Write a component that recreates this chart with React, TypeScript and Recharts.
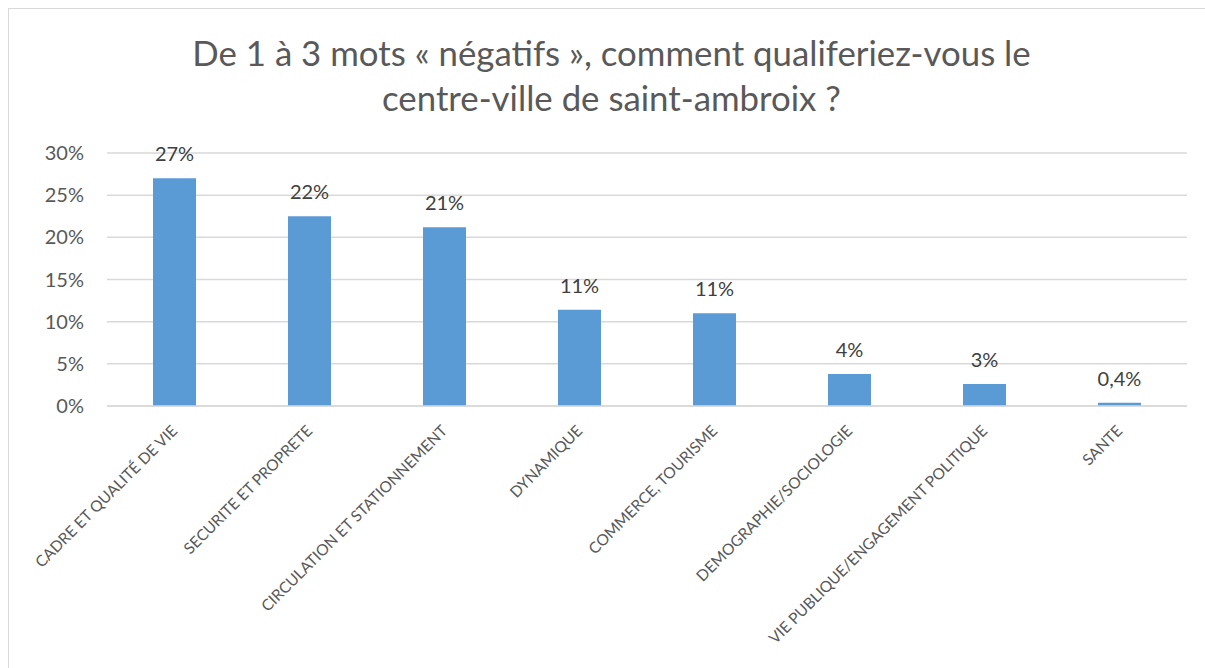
import React from "react";
import { BarChart, Bar, XAxis, YAxis, CartesianGrid, LabelList } from "recharts";

const categories = [
  "CADRE ET QUALITÉ DE VIE",
  "SECURITE ET PROPRETE",
  "CIRCULATION ET STATIONNEMENT",
  "DYNAMIQUE",
  "COMMERCE, TOURISME",
  "DEMOGRAPHIE/SOCIOLOGIE",
  "VIE PUBLIQUE/ENGAGEMENT POLITIQUE",
  "SANTE",
];
const values = [27.0, 22.5, 21.2, 11.4, 11.0, 3.8, 2.6, 0.4];
const valueLabels = ["27%", "22%", "21%", "11%", "11%", "4%", "3%", "0,4%"];
const yTicks = [0, 5, 10, 15, 20, 25, 30];
const titleLines = [
  "De 1 à 3 mots « négatifs », comment qualiferiez-vous le",
  "centre-ville de saint-ambroix ?",
];

const data = categories.map((c, i) => ({ name: c, value: values[i], label: valueLabels[i] }));

const FONT = "Lato, 'Open Sans', sans-serif";

const XTick = (props: any) => {
  const { x, y, payload } = props;
  return (
    <g transform={`translate(${x},${y + 14})`}>
      <text
        transform="rotate(-45)"
        textAnchor="end"
        fill="#595959"
        fontSize={15.5}
        fontFamily={FONT}
        dy="0.35em"
      >
        {payload.value}
      </text>
    </g>
  );
};

export default function App() {
  return (
    <div style={{ position: "absolute", left: 0, top: 0, width: 1205, height: 668, overflow: "hidden", background: "#fff" }}>
      <div
        style={{
          position: "absolute",
          left: 8,
          top: 8,
          width: 1220,
          height: 700,
          border: "1.5px solid #d9d9d9",
          boxSizing: "border-box",
        }}
      />
      {titleLines.map((t, i) => (
        <div
          key={i}
          style={{
            position: "absolute",
            left: 0,
            width: 1223,
            top: 31 + i * 45,
            textAlign: "center",
            fontFamily: FONT,
            fontSize: 34.8,
            color: "#595959",
            lineHeight: "44px",
            whiteSpace: "nowrap",
          }}
        >
          {t}
        </div>
      ))}
      <div style={{ position: "absolute", left: 0, top: 0 }}>
        <BarChart
          width={1205}
          height={668}
          data={data}
          margin={{ top: 153, right: 18, bottom: 0, left: 0 }}
        >
          <CartesianGrid vertical={false} stroke="#d9d9d9" strokeWidth={1.5} />
          <XAxis
            dataKey="name"
            interval={0}
            tickLine={false}
            axisLine={{ stroke: "#d9d9d9", strokeWidth: 1.5 }}
            tick={<XTick />}
            height={262}
          />
          <YAxis
            width={107}
            domain={[0, 30]}
            ticks={yTicks}
            tickFormatter={(v: number) => `${v}%`}
            axisLine={false}
            tickLine={false}
            tickSize={0}
            tickMargin={23}
            tick={{ fill: "#595959", fontSize: 20, fontFamily: FONT }}
          />
          <Bar dataKey="value" fill="#5b9bd5" isAnimationActive={false} barSize={43}>
            <LabelList
              dataKey="label"
              position="top"
              offset={17}
              fill="#404040"
              fontSize={20}
              fontFamily={FONT}
            />
          </Bar>
        </BarChart>
      </div>
    </div>
  );
}
